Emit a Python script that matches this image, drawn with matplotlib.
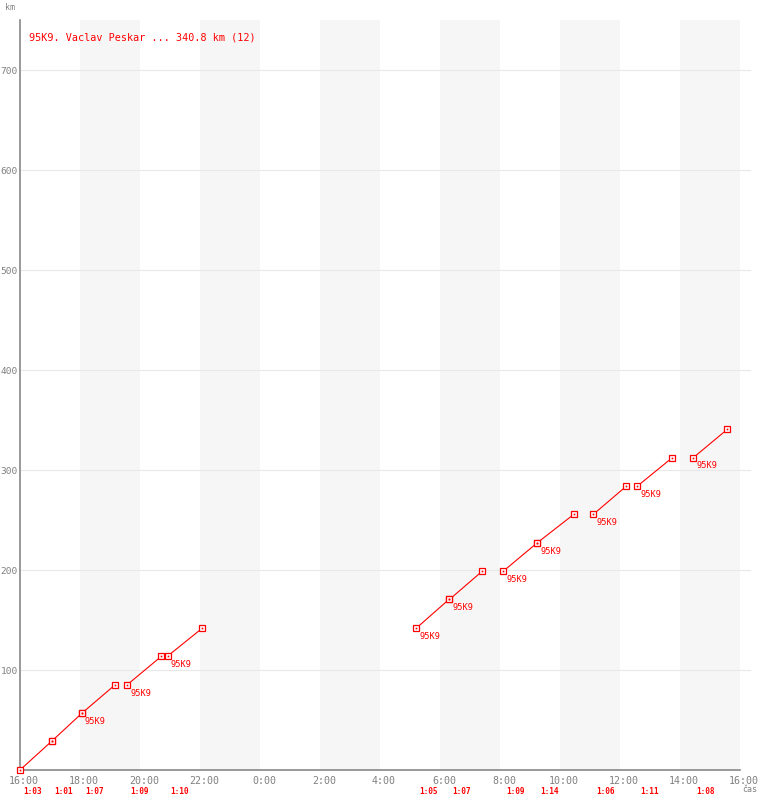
import matplotlib
matplotlib.use('Agg')
import matplotlib.pyplot as plt
from matplotlib.transforms import blended_transform_factory, offset_copy

# ---- data ----
leg_start_time = ["16:00", "17:03", "18:04", "19:35", "20:55", "5:13",
                  "6:19", "8:07", "9:15", "11:07", "12:35", "14:27"]
leg_end_time = ["17:03", "18:04", "19:11", "20:43", "22:05", "6:18",
                "7:25", "9:15", "10:28", "12:13", "13:45", "15:35"]
leg_start_km = [0.0, 28.6, 56.9, 85.5, 113.8, 142.0,
                170.6, 199.0, 227.4, 255.8, 284.0, 312.5]
leg_end_km = [28.6, 56.9, 85.5, 113.8, 142.0, 170.6,
              199.0, 227.4, 255.8, 284.0, 312.5, 340.8]
leg_durations = ["1:03", "1:01", "1:07", "1:09", "1:10", "1:05",
                 "1:07", "1:09", "1:14", "1:06", "1:11", "1:08"]
leg_label_shown = [False, False, True, True, True, True,
                   True, True, True, True, True, True]
point_label = "95K9"
title_text = "95K9. Vaclav Peskar ... 340.8 km (12)"
x_tick_labels = ["16:00", "18:00", "20:00", "22:00", "0:00", "2:00", "4:00",
                 "6:00", "8:00", "10:00", "12:00", "14:00", "16:00"]
y_ticks = [100, 200, 300, 400, 500, 600, 700]
shade_bands = [(2, 4), (6, 8), (10, 12), (14, 16), (18, 20), (22, 24)]


def hours_after_16(t):
    h, m = t.split(":")
    v = int(h) + int(m) / 60.0 - 16.0
    if v < 0:
        v += 24.0
    return v


W, H = 760, 800
RED = "#ff0000"
GRAY = "#808080"
MONO = "DejaVu Sans Mono"

fig = plt.figure(figsize=(W / 100, H / 100), dpi=100)
ax = fig.add_axes([20 / W, 30 / H, 720 / W, 750 / H])
ax.set_xlim(0, 24)
ax.set_ylim(0, 750)

for a, b in shade_bands:
    ax.axvspan(a, b, color="#f6f6f6", lw=0, zorder=0)
for y in y_ticks:
    ax.plot([0, 24.33], [y, y], color="#e8e8e8", lw=0.8, clip_on=False, zorder=0.5)

for s in ["top", "right"]:
    ax.spines[s].set_visible(False)
for s in ["left", "bottom"]:
    ax.spines[s].set_color("#888888")
    ax.spines[s].set_linewidth(1.2)

ax.set_yticks(y_ticks)
ax.set_yticklabels([str(v) for v in y_ticks], family=MONO, fontsize=6.8, color=GRAY)
ax.set_xticks(list(range(0, 25, 2)))
ax.set_xticklabels(x_tick_labels, family=MONO, fontsize=7.2, color=GRAY)
ax.tick_params(axis="both", length=0)
ax.tick_params(axis="x", pad=4)
ax.tick_params(axis="y", pad=1.5)
for lbl in ax.get_xticklabels():
    lbl.set_transform(offset_copy(lbl.get_transform(), fig=fig, x=4, y=0, units="dots"))

bt = blended_transform_factory(ax.transData, ax.transAxes)
for i in range(len(leg_start_time)):
    x0 = hours_after_16(leg_start_time[i])
    x1 = hours_after_16(leg_end_time[i])
    y0, y1 = leg_start_km[i], leg_end_km[i]
    ax.plot([x0, x1], [y0, y1], color=RED, lw=0.8, zorder=3)
    ax.plot([x0, x1], [y0, y1], ls="none", marker="s", ms=5, mfc="white",
            mec=RED, mew=0.9, zorder=4, clip_on=False)
    ax.plot([x0, x1], [y0, y1], ls="none", marker="s", ms=1.2, mfc=RED,
            mec=RED, mew=0, zorder=5, clip_on=False)
    if leg_label_shown[i]:
        ax.annotate(point_label, (x0, y0), xytext=(3, -4), textcoords="offset pixels",
                    ha="left", va="top", family=MONO, fontsize=6.2, color=RED, zorder=6)
    ax.annotate(leg_durations[i], (x0, 0), xycoords=bt, xytext=(3, -22),
                textcoords="offset pixels", ha="left", va="center", family=MONO,
                fontsize=5.6, fontweight="bold", color=RED, annotation_clip=False)

ax.text(9 / 720, 1 - 18 / 750, title_text, transform=ax.transAxes, family=MONO,
        fontsize=7.3, color=RED, ha="left", va="center")
fig.text(5 / W, 1 - 7 / H, "km", family=MONO, fontsize=6, color=GRAY, ha="left", va="center")
fig.text(742 / W, 1 - 789 / H, "čas", family=MONO, fontsize=6, color=GRAY, ha="left", va="center")

fig.savefig("out.png", dpi=100)
